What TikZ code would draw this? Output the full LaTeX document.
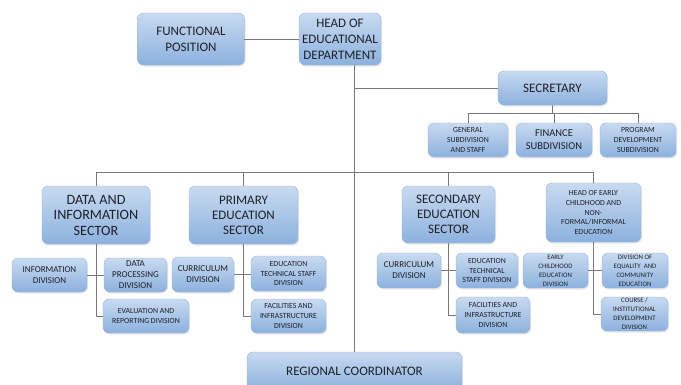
\documentclass[tikz,border=0pt]{standalone}
\usepackage{fontspec}
\setmainfont{Carlito}
\usepackage{xcolor}
\usetikzlibrary{shadows}

\definecolor{boxtop}{RGB}{200,218,240}
\definecolor{boxbot}{RGB}{140,177,222}
\definecolor{boxedge}{RGB}{150,180,216}
\definecolor{linegray}{RGB}{120,120,120}
\definecolor{txtgray}{RGB}{30,32,40}

\tikzset{
    orgbox/.style={rounded corners=6pt, draw=boxedge, line width=0.4pt,
        top color=boxtop, bottom color=boxbot, text=txtgray,
        align=center, inner sep=1pt, outer sep=0pt,
        drop shadow={opacity=0.18, shadow xshift=1pt, shadow yshift=-1.5pt}},
    bigtxt/.style={font=\fontsize{13}{16}\selectfont},
    sectxt/.style={font=\fontsize{13}{15}\selectfont},
    midtxt/.style={font=\fontsize{9}{11}\selectfont},
    smalltxt/.style={font=\fontsize{7.8}{9.7}\selectfont},
    tinytxt/.style={font=\fontsize{6.8}{9}\selectfont},
    conn/.style={draw=linegray, line width=0.8pt}
}

\begin{document}
\begin{tikzpicture}[x=1pt, y=-1pt, line cap=rect]
    \clip (0,0) rectangle (681,384);
    \fill[white] (0,0) rectangle (681,384);

    % Top level
    \node[orgbox, bigtxt, minimum width=107, minimum height=52] (func) at (191,39) {FUNCTIONAL\\POSITION};
    \node[orgbox, bigtxt, minimum width=82, minimum height=52] (head) at (340,39) {HEAD OF\\EDUCATIONAL\\DEPARTMENT};
    \node[orgbox, bigtxt, minimum width=215, minimum height=38] (rc) at (354.5,371) {REGIONAL COORDINATOR};

    % Secretary and subdivisions
    \node[orgbox, bigtxt, minimum width=109, minimum height=34] (sec) at (552.5,88) {SECRETARY};
    \node[orgbox, smalltxt, minimum width=80, minimum height=34] (gen) at (468,140) {GENERAL\\SUBDIVISION\\AND STAFF};
    \node[orgbox, font=\fontsize{10.5}{13}\selectfont, minimum width=76, minimum height=34] (fin) at (554,140) {FINANCE\\SUBDIVISION};
    \node[orgbox, smalltxt, minimum width=76, minimum height=34] (prog) at (638,140) {PROGRAM\\DEVELOPMENT\\SUBDIVISION};

    % Sectors
    \node[orgbox, font=\fontsize{14.2}{15.5}\selectfont, minimum width=108, minimum height=58] (data) at (96,215) {DATA AND\\INFORMATION\\SECTOR};
    \node[orgbox, sectxt, minimum width=109, minimum height=58] (prim) at (243.5,215) {PRIMARY\\EDUCATION\\SECTOR};
    \node[orgbox, sectxt, minimum width=93, minimum height=57] (secd) at (448.5,214.5) {SECONDARY\\EDUCATION\\SECTOR};
    \node[orgbox, smalltxt, minimum width=95, minimum height=59] (early) at (593.5,212.5) {HEAD OF EARLY\\CHILDHOOD AND\\NON-\\FORMAL/INFORMAL\\EDUCATION};

    % Divisions
    \node[orgbox, midtxt, minimum width=75, minimum height=34] (info) at (49.5,275) {INFORMATION\\DIVISION};
    \node[orgbox, midtxt, minimum width=63, minimum height=34] (dproc) at (135.5,275) {DATA\\PROCESSING\\DIVISION};
    \node[orgbox, smalltxt, minimum width=86, minimum height=34] (eval) at (146,316) {EVALUATION AND\\REPORTING DIVISION};

    \node[orgbox, midtxt, minimum width=62, minimum height=35] (curra) at (203,274.5) {CURRICULUM\\DIVISION};
    \node[orgbox, smalltxt, minimum width=75, minimum height=35] (techa) at (288.5,273.5) {EDUCATION\\TECHNICAL STAFF\\DIVISION};
    \node[orgbox, smalltxt, minimum width=75, minimum height=34] (faca) at (288.5,316) {FACILITIES AND\\INFRASTRUCTURE\\DIVISION};

    \node[orgbox, midtxt, minimum width=64, minimum height=35] (currb) at (409,270.5) {CURRICULUM\\DIVISION};
    \node[orgbox, smalltxt, minimum width=62, minimum height=35] (techb) at (487,270.5) {EDUCATION\\TECHNICAL\\STAFF DIVISION};
    \node[orgbox, smalltxt, minimum width=74, minimum height=36] (facb) at (493,315) {FACILITIES AND\\INFRASTRUCTURE\\DIVISION};

    \node[orgbox, tinytxt, minimum width=65, minimum height=35] (ecd) at (555.5,270.5) {EARLY\\CHILDHOOD\\EDUCATION\\DIVISION};
    \node[orgbox, tinytxt, minimum width=66, minimum height=35] (deq) at (635,270.5) {DIVISION OF\\EQUALITY \ AND\\COMMUNITY\\EDUCATION};
    \node[orgbox, tinytxt, minimum width=67, minimum height=34] (course) at (634.5,314) {COURSE /\\INSTITUTIONAL\\DEVELOPMENT\\DIVISION};

    % Connectors
    \coordinate (secbar) at (0,113);
    \coordinate (bar) at (0,172);

    \draw[conn] (func.east) -- (func.east -| head.west);
    \draw[conn] (rc.north |- head.south) -- (rc.north);
    \draw[conn] (rc.north |- sec.west) -- (sec.west);

    \draw[conn] (sec.south) -- (sec.south |- secbar);
    \draw[conn] (gen.north) -- (gen.north |- secbar) -- (prog.north |- secbar) -- (prog.north);
    \draw[conn] (fin.north |- secbar) -- (fin.north);

    \draw[conn] (data.north) -- (data.north |- bar) -- (early.north |- bar) -- (early.north);
    \foreach \s in {prim, secd}{
        \draw[conn] (\s.north |- bar) -- (\s.north);
    }

    \foreach \s/\l/\r/\b in {data/info/dproc/eval, prim/curra/techa/faca, secd/currb/techb/facb, early/ecd/deq/course}{
        \draw[conn] (\s.south) -- (\s.south |- \b.west) -- (\b.west);
        \draw[conn] (\l.east) -- (\l.east -| \r.west);
    }

\end{tikzpicture}
\end{document}
